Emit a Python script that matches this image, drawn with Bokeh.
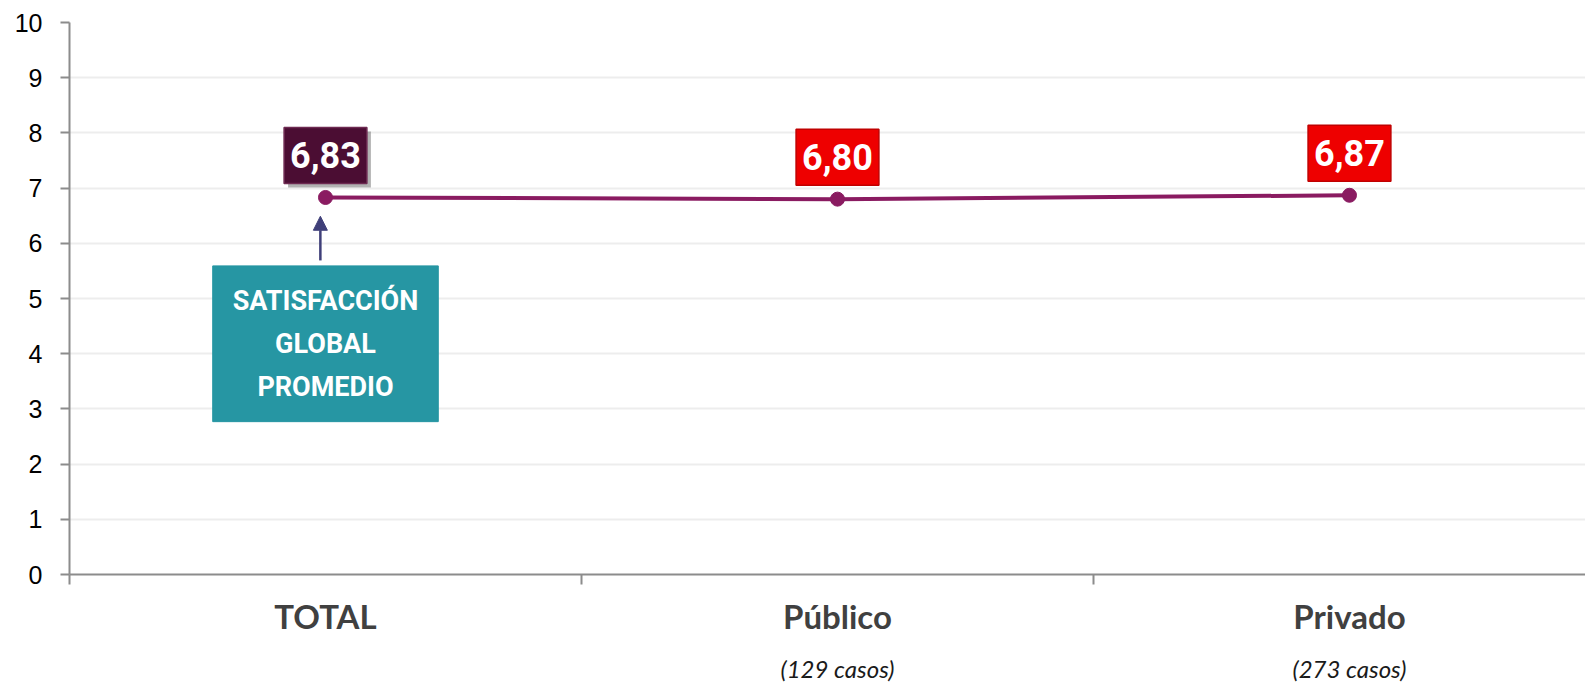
from bokeh.plotting import figure
from bokeh.models import (ColumnDataSource, FixedTicker, LinearAxis, Range1d, Label,
                          Arrow, NormalHead, CDSView, IndexFilter)
from bokeh.core.properties import value
from bokeh.embed import file_html
from bokeh.resources import INLINE

# ---- data ----
categories = ["TOTAL", "Público", "Privado"]
scores = [6.83, 6.80, 6.87]
cases = ["", "(129 casos)", "(273 casos)"]
label_fill = ["#4B0D33", "#EE0000", "#EE0000"]
label_border = ["#6E2A52", "#C00000", "#C00000"]
y_ticks = list(range(0, 11))
note_lines = ["SATISFACCIÓN", "GLOBAL", "PROMEDIO"]

xs = [i + 0.5 for i in range(len(categories))]
bounds = list(range(len(categories) + 1))
texts = [f"{v:.2f}".replace(".", ",") for v in scores]

src = ColumnDataSource(dict(x=xs, y=scores, text=texts, fill=label_fill, border=label_border))

AXIS_COLOR = "#8C8C8C"

p = figure(width=1585, height=689, output_backend="svg", toolbar_location=None,
           x_range=Range1d(0, 2.961), y_range=Range1d(0, 10),
           min_border_left=69, min_border_top=22, min_border_right=0, min_border_bottom=115)
p.outline_line_color = None
p.background_fill_color = "white"
p.border_fill_color = "white"

# grid
p.xgrid.visible = False
p.ygrid.ticker = FixedTicker(ticks=y_ticks)
p.ygrid.grid_line_color = "#EDEDED"
p.ygrid.grid_line_width = 2

# y axis
ya = p.yaxis[0]
ya.ticker = FixedTicker(ticks=y_ticks)
ya.axis_line_color = AXIS_COLOR
ya.axis_line_width = 2
ya.major_tick_line_color = AXIS_COLOR
ya.major_tick_line_width = 2
ya.major_tick_in = 0
ya.major_tick_out = 9
ya.minor_tick_line_color = None
ya.major_label_standoff = 18
ya.major_label_text_font = "Liberation Sans"
ya.major_label_text_font_size = "25px"
ya.major_label_text_color = "#000000"

# x axis: category names at centres, tick marks at boundaries
xa = p.xaxis[0]
xa.ticker = FixedTicker(ticks=xs, minor_ticks=bounds)
xa.major_label_overrides = {x: c for x, c in zip(xs, categories)}
xa.axis_line_color = AXIS_COLOR
xa.axis_line_width = 2
xa.major_tick_line_color = None
xa.major_tick_in = 0
xa.major_tick_out = 10
xa.minor_tick_line_color = AXIS_COLOR
xa.minor_tick_line_width = 2
xa.minor_tick_in = 0
xa.minor_tick_out = 10
xa.major_label_standoff = 11
xa.major_label_text_font = "Lato"
xa.major_label_text_font_style = "bold"
xa.major_label_text_font_size = "33px"
xa.major_label_text_color = "#404040"

# second row of x labels: number of cases
case_x = [x for x, c in zip(xs, cases) if c]
case_t = [c for c in cases if c]
xa2 = LinearAxis(ticker=FixedTicker(ticks=case_x),
                 major_label_overrides={x: c for x, c in zip(case_x, case_t)},
                 axis_line_color=None, major_tick_line_color=None, minor_tick_line_color=None,
                 major_tick_in=0, major_tick_out=0, minor_tick_in=0, minor_tick_out=0,
                 major_label_standoff=15,
                 major_label_text_font="Lato", major_label_text_font_style="italic",
                 major_label_text_font_size="24px", major_label_text_color="#1A1A1A")
p.add_layout(xa2, "below")

# line + markers
p.line("x", "y", source=src, line_color="#8A1B61", line_width=4)
p.scatter("x", "y", source=src, size=14, fill_color="#8A1B61", line_color="#8A1B61")

pad = dict(left=6, right=6, top=15, bottom=15)

# shadow behind first value label
p.text("x", "y", text="text", source=src, view=CDSView(filter=IndexFilter([0])),
       text_alpha=0, text_font=value("Roboto"), text_font_style="bold", text_font_size="36px",
       text_align="center", text_baseline="middle", x_offset=4, y_offset=-38,
       background_fill_color="#555555", background_fill_alpha=0.45, padding=pad)

# value labels
p.text("x", "y", text="text", source=src,
       text_color="white", text_font=value("Roboto"), text_font_style="bold", text_font_size="36px",
       text_align="center", text_baseline="middle", y_offset=-42,
       background_fill_color="fill", border_line_color="border", border_line_width=1.5,
       padding=pad)

# annotation box
note = Label(x=xs[0], y=4.18, x_units="data", y_units="data", text="\n".join(note_lines),
             text_align="center", text_baseline="middle", text_color="white",
             text_font="Roboto", text_font_style="bold", text_font_size="27px",
             text_line_height=1.34, background_fill_color="#2696A3",
             border_line_color="#2696A3", padding=dict(left=20, right=20, top=19, bottom=19))
p.add_layout(note)

arrow = Arrow(end=NormalHead(size=14, fill_color="#3F3F79", line_color="#3F3F79"),
              x_start=0.49, y_start=5.69, x_end=0.49, y_end=6.49,
              line_color="#3F3F79", line_width=2.5)
p.add_layout(arrow)

open("out.html", "w").write(file_html(p, INLINE))
